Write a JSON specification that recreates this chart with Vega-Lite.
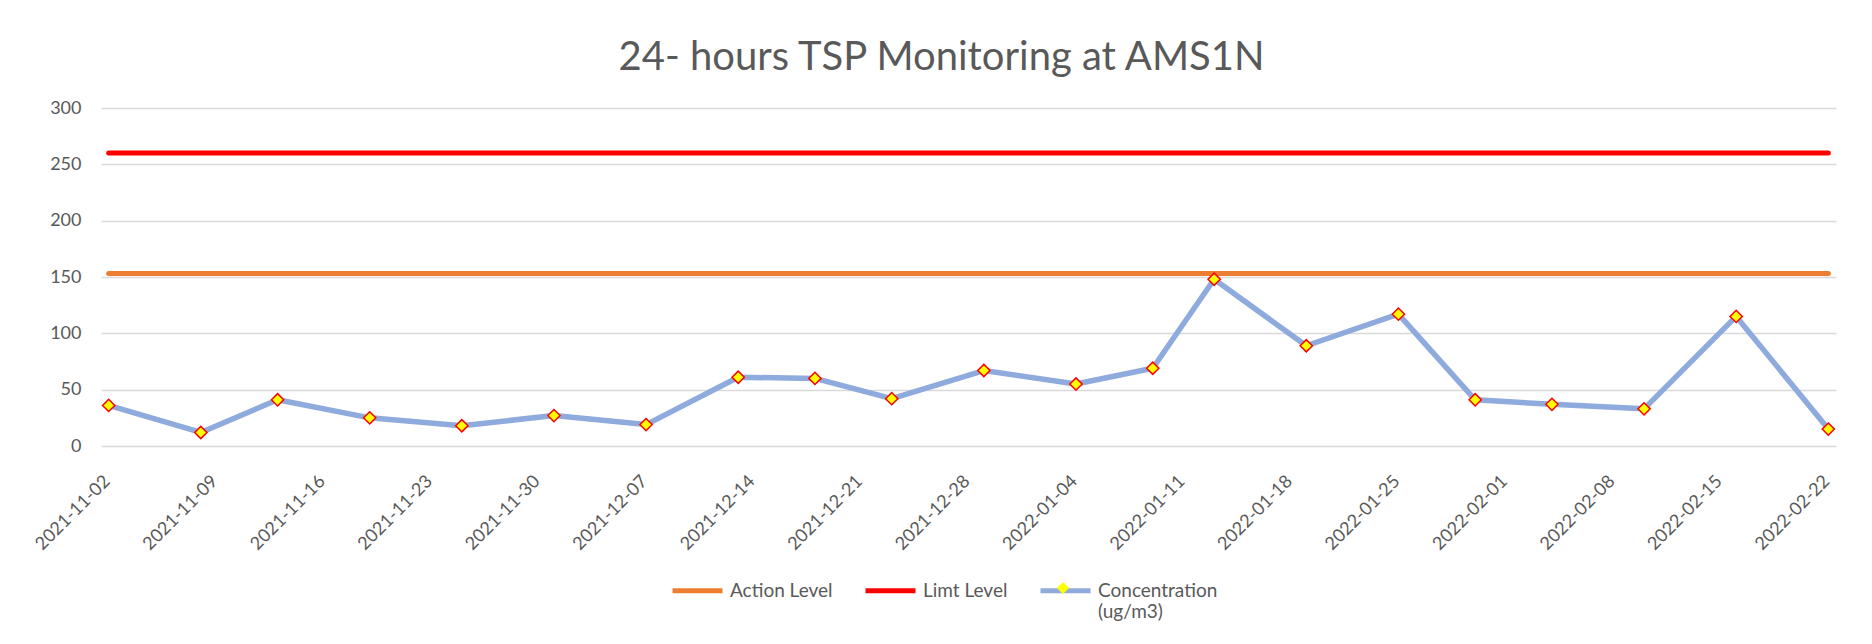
{
  "$schema": "https://vega.github.io/schema/vega-lite/v6.json",
  "width": 1735,
  "height": 338,
  "autosize": "none",
  "padding": {"left": 101, "top": 108, "right": 36, "bottom": 198},
  "background": "white",
  "config": {"view": {"stroke": null}, "font": "Lato"},
  "title": {
    "text": "24- hours TSP Monitoring at AMS1N",
    "font": "Lato",
    "fontSize": 40,
    "fontWeight": 400,
    "color": "#595959",
    "anchor": "middle",
    "frame": "group",
    "dx": -27,
    "baseline": "alphabetic",
    "offset": -11
  },
  "data": {
    "values": [
      {"date": "2021-11-02", "Concentration (ug/m3)": 36, "Action Level": 153, "Limt Level": 260},
      {"date": "2021-11-08", "Concentration (ug/m3)": 12, "Action Level": 153, "Limt Level": 260},
      {"date": "2021-11-13", "Concentration (ug/m3)": 41, "Action Level": 153, "Limt Level": 260},
      {"date": "2021-11-19", "Concentration (ug/m3)": 25, "Action Level": 153, "Limt Level": 260},
      {"date": "2021-11-25", "Concentration (ug/m3)": 18, "Action Level": 153, "Limt Level": 260},
      {"date": "2021-12-01", "Concentration (ug/m3)": 27, "Action Level": 153, "Limt Level": 260},
      {"date": "2021-12-07", "Concentration (ug/m3)": 19, "Action Level": 153, "Limt Level": 260},
      {"date": "2021-12-13", "Concentration (ug/m3)": 61, "Action Level": 153, "Limt Level": 260},
      {"date": "2021-12-18", "Concentration (ug/m3)": 60, "Action Level": 153, "Limt Level": 260},
      {"date": "2021-12-23", "Concentration (ug/m3)": 42, "Action Level": 153, "Limt Level": 260},
      {"date": "2021-12-29", "Concentration (ug/m3)": 67, "Action Level": 153, "Limt Level": 260},
      {"date": "2022-01-04", "Concentration (ug/m3)": 55, "Action Level": 153, "Limt Level": 260},
      {"date": "2022-01-09", "Concentration (ug/m3)": 69, "Action Level": 153, "Limt Level": 260},
      {"date": "2022-01-13", "Concentration (ug/m3)": 148, "Action Level": 153, "Limt Level": 260},
      {"date": "2022-01-19", "Concentration (ug/m3)": 89, "Action Level": 153, "Limt Level": 260},
      {"date": "2022-01-25", "Concentration (ug/m3)": 117, "Action Level": 153, "Limt Level": 260},
      {"date": "2022-01-30", "Concentration (ug/m3)": 41, "Action Level": 153, "Limt Level": 260},
      {"date": "2022-02-04", "Concentration (ug/m3)": 37, "Action Level": 153, "Limt Level": 260},
      {"date": "2022-02-10", "Concentration (ug/m3)": 33, "Action Level": 153, "Limt Level": 260},
      {"date": "2022-02-16", "Concentration (ug/m3)": 115, "Action Level": 153, "Limt Level": 260},
      {"date": "2022-02-22", "Concentration (ug/m3)": 15, "Action Level": 153, "Limt Level": 260}
    ]
  },
  "encoding": {
    "x": {
      "field": "date",
      "type": "temporal",
      "scale": {
        "type": "utc",
        "domain": [
          {"year": 2021, "month": 11, "date": 1, "hours": 12, "utc": true},
          {"year": 2022, "month": 2, "date": 22, "hours": 12, "utc": true}
        ]
      },
      "axis": {
        "title": null,
        "values": [
          {"year": 2021, "month": 11, "date": 2, "utc": true},
          {"year": 2021, "month": 11, "date": 9, "utc": true},
          {"year": 2021, "month": 11, "date": 16, "utc": true},
          {"year": 2021, "month": 11, "date": 23, "utc": true},
          {"year": 2021, "month": 11, "date": 30, "utc": true},
          {"year": 2021, "month": 12, "date": 7, "utc": true},
          {"year": 2021, "month": 12, "date": 14, "utc": true},
          {"year": 2021, "month": 12, "date": 21, "utc": true},
          {"year": 2021, "month": 12, "date": 28, "utc": true},
          {"year": 2022, "month": 1, "date": 4, "utc": true},
          {"year": 2022, "month": 1, "date": 11, "utc": true},
          {"year": 2022, "month": 1, "date": 18, "utc": true},
          {"year": 2022, "month": 1, "date": 25, "utc": true},
          {"year": 2022, "month": 2, "date": 1, "utc": true},
          {"year": 2022, "month": 2, "date": 8, "utc": true},
          {"year": 2022, "month": 2, "date": 15, "utc": true},
          {"year": 2022, "month": 2, "date": 22, "utc": true}
        ],
        "format": "%Y-%m-%d",
        "labelAngle": -45,
        "grid": false,
        "domain": false,
        "ticks": false,
        "labelFont": "Lato",
        "labelFontSize": 18,
        "labelColor": "#595959",
        "labelPadding": 26,
        "labelOffset": -8,
        "labelOverlap": false,
        "labelFlush": false
      }
    }
  },
  "layer": [
    {
      "transform": [{"fold": ["Action Level", "Limt Level"], "as": ["series", "value"]}],
      "mark": {"type": "line", "strokeWidth": 5, "strokeCap": "round", "strokeJoin": "round"},
      "encoding": {
        "y": {
          "field": "value",
          "type": "quantitative",
          "scale": {"domain": [0, 300], "nice": false},
          "axis": {
            "title": null,
            "values": [0, 50, 100, 150, 200, 250, 300],
            "grid": true,
            "gridColor": "#D9D9D9",
            "gridWidth": 1.5,
            "domain": false,
            "ticks": false,
            "labelFont": "Lato",
            "labelFontSize": 18,
            "labelColor": "#595959",
            "labelPadding": 20
          }
        },
        "color": {
          "field": "series",
          "type": "nominal",
          "scale": {
            "domain": ["Action Level", "Limt Level", "Concentration (ug/m3)"],
            "range": ["#ED7D31", "#FF0000", "#8FAADC"]
          },
          "legend": {
            "orient": "none",
            "direction": "horizontal",
            "legendX": 569,
            "legendY": 455,
            "zindex": 1,
            "title": null,
            "symbolType": "stroke",
            "symbolSize": 2500,
            "symbolStrokeWidth": 5,
            "labelFont": "Lato",
            "labelFontSize": 19,
            "labelColor": "#595959",
            "labelOffset": 5,
            "columnPadding": 22,
            "labelLimit": 400,
            "labelExpr": "datum.label == 'Concentration (ug/m3)' ? ['Concentration', '(ug/m3)'] : [datum.label, ' ']"
          }
        }
      }
    },
    {
      "mark": {"type": "line", "strokeWidth": 5.5, "strokeCap": "round", "strokeJoin": "round"},
      "encoding": {
        "y": {"field": "Concentration (ug/m3)", "type": "quantitative"},
        "color": {"datum": "Concentration (ug/m3)"}
      }
    },
    {
      "mark": {"type": "point", "filled": true, "fill": "#FFFF00", "stroke": "#FF0000", "strokeWidth": 1.5, "size": 150, "opacity": 1},
      "encoding": {
        "y": {"field": "Concentration (ug/m3)", "type": "quantitative"},
        "shape": {
          "datum": "Concentration (ug/m3)",
          "scale": {"range": ["diamond"]},
          "legend": {
            "orient": "none",
            "legendX": 955,
            "legendY": 473,
            "zindex": 2,
            "title": null,
            "labelExpr": "''",
            "symbolFillColor": "#FFFF00",
            "symbolStrokeColor": "#FF0000",
            "symbolStrokeWidth": 1.5,
            "symbolSize": 150,
            "symbolOpacity": 1,
            "encode": {
              "symbols": {
                "update": {
                  "fill": {"value": "#FFFF00"},
                  "stroke": {"value": "#FF0000"},
                  "strokeWidth": {"value": 1.5},
                  "opacity": {"value": 1}
                }
              }
            }
          }
        }
      }
    }
  ]
}
